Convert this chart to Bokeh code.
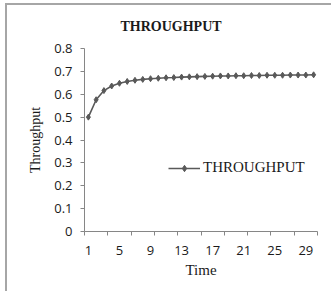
from bokeh.plotting import figure
from bokeh.models import FixedTicker, Range1d, Legend, LegendItem, Title
from bokeh.embed import file_html
from bokeh.resources import INLINE

time = list(range(1, 31))
throughput = [0.500, 0.576, 0.616, 0.636, 0.648, 0.656, 0.661, 0.665, 0.668, 0.670,
              0.672, 0.673, 0.675, 0.676, 0.677, 0.678, 0.679, 0.680, 0.680, 0.681,
              0.681, 0.682, 0.682, 0.683, 0.683, 0.683, 0.684, 0.684, 0.684, 0.685]
x_labels = [1, 5, 9, 13, 17, 21, 25, 29]
y_ticks = [0, 0.1, 0.2, 0.3, 0.4, 0.5, 0.6, 0.7, 0.8]
y_labels = ["0", "0.1", "0.2", "0.3", "0.4", "0.5", "0.6", "0.7", "0.8"]
title_text = "THROUGHPUT"

GRAY = "#595959"
AXIS = "#868686"
TXT = "#1a1a1a"
SERIF = "Liberation Serif"
SANS = "Open Sans"

p = figure(width=326, height=288, output_backend="svg", toolbar_location=None,
           x_range=Range1d(0.5, 30.5), y_range=Range1d(0, 0.8),
           min_border_left=77, min_border_right=16, min_border_top=43, min_border_bottom=62)
p.styles = {"margin-left": "5px", "margin-top": "3px",
            "border-top": "2px solid #a6a6a6", "border-left": "2px solid #a6a6a6"}
p.outline_line_color = None
p.grid.visible = False
p.background_fill_color = "white"
p.border_fill_color = "white"

p.title = Title(text=title_text, text_font=SERIF, text_font_size="14px",
                text_font_style="bold", text_color=TXT, align="left", offset=36,
                standoff=26, vertical_align="top")

r = p.line(time, throughput, line_color=GRAY, line_width=1.6)
m = p.scatter(time, throughput, marker="diamond", size=6, fill_color=GRAY, line_color=GRAY)

# x axis
xa = p.xaxis[0]
xa.ticker = FixedTicker(ticks=x_labels, minor_ticks=[0.5 + 3 * i for i in range(11)])
xa.major_tick_out = 0
xa.major_tick_in = 0
xa.minor_tick_out = 4
xa.minor_tick_in = 0
xa.minor_tick_line_color = AXIS
xa.axis_line_color = AXIS
xa.major_label_text_font = SANS
xa.major_label_text_font_size = "13px"
xa.major_label_text_color = TXT
xa.major_label_standoff = 10
xa.axis_label = "Time"
xa.axis_label_text_font = SERIF
xa.axis_label_text_font_size = "15px"
xa.axis_label_text_font_style = "normal"
xa.axis_label_text_color = TXT
xa.axis_label_standoff = 4

# y axis
ya = p.yaxis[0]
ya.ticker = FixedTicker(ticks=y_ticks, minor_ticks=[])
ya.major_label_overrides = {t: l for t, l in zip(y_ticks, y_labels)}
ya.major_tick_out = 4
ya.major_tick_in = 0
ya.major_tick_line_color = AXIS
ya.axis_line_color = AXIS
ya.major_label_text_font = SANS
ya.major_label_text_font_size = "13px"
ya.major_label_text_color = TXT
ya.major_label_standoff = 8
ya.axis_label = "Throughput"
ya.axis_label_text_font = SERIF
ya.axis_label_text_font_size = "14px"
ya.axis_label_text_font_style = "normal"
ya.axis_label_text_color = TXT
ya.axis_label_standoff = 8

legend = Legend(items=[LegendItem(label="THROUGHPUT", renderers=[r, m])],
                location=(84, 55), glyph_width=32, glyph_height=16, label_standoff=3,
                padding=0, margin=0, border_line_color=None, background_fill_alpha=0,
                label_text_font=SERIF, label_text_font_size="15px", label_text_color=TXT)
p.add_layout(legend)

open("out.html", "w").write(file_html(p, INLINE))
